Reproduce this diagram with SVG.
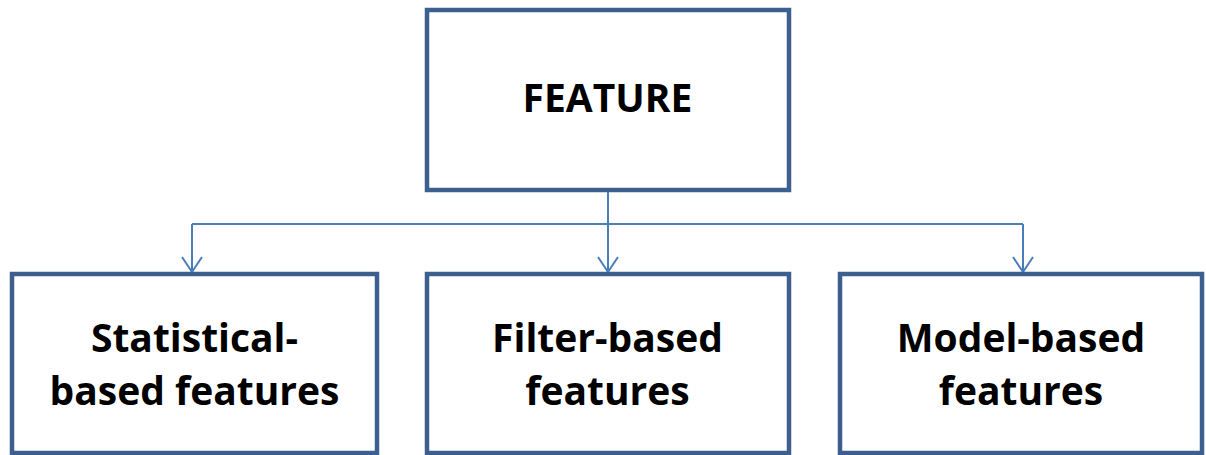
<svg xmlns="http://www.w3.org/2000/svg" width="1206" height="455" viewBox="0 0 1206 455">
<style>
.box{fill:#ffffff;stroke:#3d5f8f;stroke-width:4.5}
.lbl{font-family:"Open Sans","Liberation Sans",sans-serif;font-weight:bold;font-size:39px;fill:#000;text-anchor:middle}
.conn{fill:none;stroke:#4a7ebb;stroke-width:2}
</style>
<defs>
<marker id="arr" markerUnits="userSpaceOnUse" markerWidth="20" markerHeight="26" viewBox="-17 -13 20 26" refX="0" refY="0" orient="auto" overflow="visible">
<path d="M-15,-10 L0,0 L-15,10" fill="none" stroke="#4a7ebb" stroke-width="2"/>
</marker>
</defs>
<rect width="1206" height="455" fill="#ffffff"/>
<g id="connectors">
<line class="conn" x1="608" y1="192" x2="608" y2="224"/>
<line class="conn" x1="192" y1="224" x2="1023" y2="224"/>
<line class="conn" x1="192" y1="224" x2="192" y2="272" marker-end="url(#arr)"/>
<line class="conn" x1="608" y1="224" x2="608" y2="272" marker-end="url(#arr)"/>
<line class="conn" x1="1023" y1="224" x2="1023" y2="272" marker-end="url(#arr)"/>
</g>
<g id="feature">
<rect class="box" x="427" y="10" width="362" height="180"/>
<text class="lbl" x="607.5" y="112">FEATURE</text>
</g>
<g id="statistical">
<rect class="box" x="12" y="274" width="365" height="179"/>
<text class="lbl" x="194.5" y="352">Statistical-</text>
<text class="lbl" x="194.5" y="405">based features</text>
</g>
<g id="filter">
<rect class="box" x="427" y="274" width="362" height="179"/>
<text class="lbl" x="607.5" y="352">Filter-based</text>
<text class="lbl" x="607.5" y="405">features</text>
</g>
<g id="model">
<rect class="box" x="840" y="274" width="362" height="179"/>
<text class="lbl" x="1021" y="352">Model-based</text>
<text class="lbl" x="1021" y="405">features</text>
</g>
</svg>
